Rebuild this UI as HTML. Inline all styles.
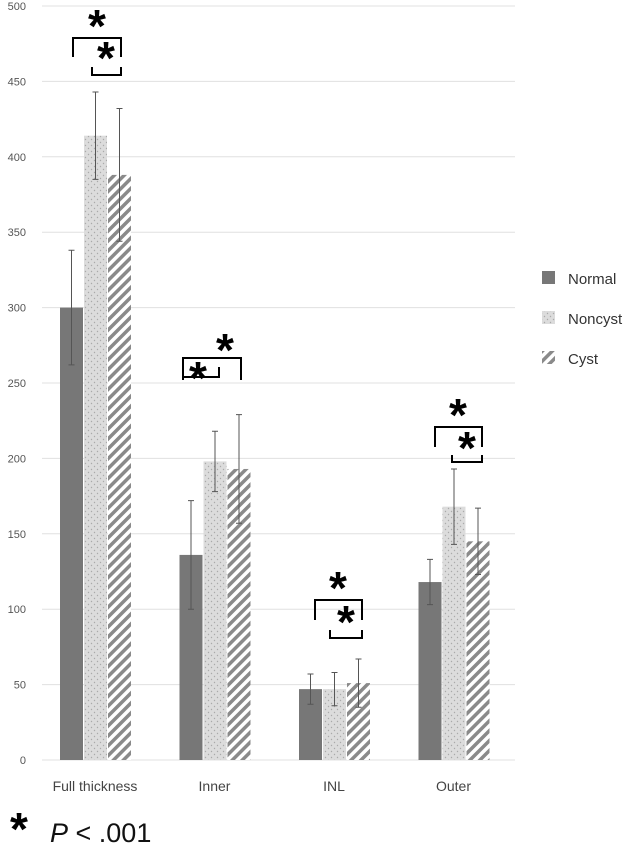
<!DOCTYPE html>
<html><head><meta charset="utf-8"><style>
body{margin:0;background:#fff;font-family:"Liberation Sans","DejaVu Sans",sans-serif}
</style></head><body>
<svg width="630" height="855" viewBox="0 0 630 855" xmlns="http://www.w3.org/2000/svg">
<defs>
<pattern id="dots" width="6" height="6" patternUnits="userSpaceOnUse"><rect width="6" height="6" fill="#dcdcdc"/><circle cx="1.5" cy="1.5" r="0.7" fill="#aaa"/><circle cx="4.5" cy="4.5" r="0.7" fill="#aaa"/></pattern>
<pattern id="hatch" width="7" height="7" patternUnits="userSpaceOnUse" patternTransform="rotate(45)"><rect width="7" height="7" fill="#fff"/><rect width="3.5" height="7" fill="#8a8a8a"/></pattern>
</defs>
<g id="grid"></g><g id="bars"></g><g id="errs"></g><g id="sig" stroke="#000" stroke-width="2" fill="none"></g>
<g font-family="Liberation Sans, sans-serif" font-size="15" fill="#333">
<rect x="542" y="271" width="13" height="13" fill="#777"/>
<text x="568" y="284">Normal</text>
<rect x="542" y="311" width="13" height="13" fill="url(#dots)"/>
<text x="568" y="324">Noncyst</text>
<rect x="542" y="351" width="13" height="13" fill="url(#hatch)"/>
<text x="568" y="364">Cyst</text>
</g>
<text x="10" y="845" font-size="46" font-weight="bold">*</text>
<text x="50" y="842" font-size="27" fill="#111"><tspan font-style="italic">P</tspan> &lt; .001</text>
</svg>
<script>
const categories=["Full thickness","Inner","INL","Outer"];
const normal=[300,136,47,118];
const noncyst=[414,198,47,168];
const cyst=[388,193,51,145];
const normalErr=[38,36,10,15];
const noncystErr=[29,20,11,25];
const cystErr=[44,36,16,22];
const yTicks=[0,50,100,150,200,250,300,350,400,450,500];
const NS="http://www.w3.org/2000/svg";
const y0=760,pxPer=1.508,x0=42,groupW=119.5,barW=23,gridR=515;
const y=v=>y0-v*pxPer;
const gx=i=>x0+18+i*groupW;
function mk(tag,attrs,parent){const e=document.createElementNS(NS,tag);for(const k in attrs)e.setAttribute(k,attrs[k]);document.getElementById(parent).appendChild(e);return e;}
yTicks.forEach(t=>{
 const l=mk('line',{x1:x0,x2:gridR,y1:y(t),y2:y(t),stroke:'#e0e0e0','stroke-width':1},'grid');
 
 
 const tx=mk('text',{x:26,y:y(t)+4,'text-anchor':'end','font-size':11,fill:'#555'},'grid');
 tx.textContent=t;
 
 
});
const series=[[normal,normalErr,'#777','normal'],[noncyst,noncystErr,'url(#dots)','noncyst'],[cyst,cystErr,'url(#hatch)','cyst']];
categories.forEach((c,i)=>{
 series.forEach((s,j)=>{
  const bx=gx(i)+j*(barW+1);
  const r=mk('rect',{x:bx,y:y(s[0][i]),width:barW,height:s[0][i]*pxPer,fill:s[2]},'bars');
  
  
  const cx=bx+barW/2,hi=y(s[0][i]+s[1][i]),lo=y(s[0][i]-s[1][i]);
  const e=mk('path',{d:`M${cx},${hi}V${lo}M${cx-3},${hi}H${cx+3}M${cx-3},${lo}H${cx+3}`,stroke:'#555','stroke-width':1,fill:'none'},'errs');
  
  
 });
 const t=mk('text',{x:gx(i)+35,y:791,'text-anchor':'middle','font-size':14,fill:'#444'},'grid');
 t.textContent=c;
 
 
});
const sig=[
 ['M73,57V38H121V57','M92,67V75H121V67',[97,30],[106,62]],
 ['M183,380V358H241V380','M183,367V377H219V367',[225,354],[198,382]],
 ['M315,620V600H362V620','M330,630V638H362V630',[338,592],[346,626]],
 ['M435,447V427H482V447','M452,455V462H482V455',[458,419],[467,452]]
];
sig.forEach((s,i)=>{
 [s[0],s[1]].forEach((d,k)=>{const p=mk('path',{d},'sig');
  
  });
 [s[2],s[3]].forEach((pt,k)=>{const t=mk('text',{x:pt[0],y:pt[1]+12,'text-anchor':'middle','font-size':46,'font-weight':'bold',fill:'#000',stroke:'none'},'sig');
  t.textContent='*';
  
  });
});
</script>
</body></html>
